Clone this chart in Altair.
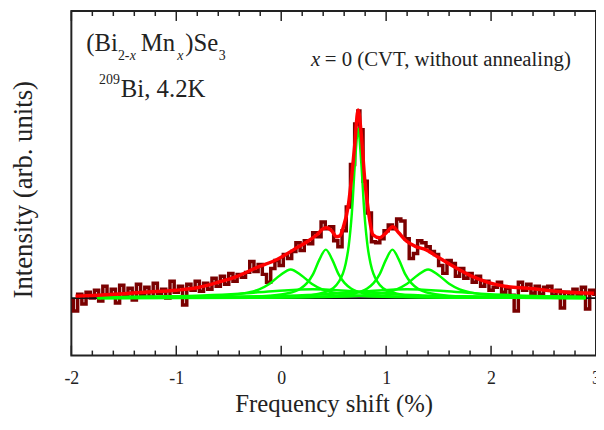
import altair as alt
import pandas as pd

# ---------------- data ----------------
# measured spectrum (noisy trace)
data_x = [-2.00, -1.96, -1.92, -1.88, -1.84, -1.80, -1.76, -1.72, -1.68, -1.64,
          -1.60, -1.56, -1.52, -1.48, -1.44, -1.40, -1.36, -1.32, -1.28, -1.24,
          -1.20, -1.16, -1.12, -1.08, -1.04, -1.00, -0.96, -0.92, -0.88, -0.84,
          -0.80, -0.76, -0.72, -0.68, -0.64, -0.60, -0.56, -0.52, -0.48, -0.44,
          -0.40, -0.36, -0.32, -0.28, -0.24, -0.20, -0.16, -0.12, -0.08, -0.04,
          0.00, 0.04, 0.08, 0.12, 0.16, 0.20, 0.24, 0.28, 0.32, 0.36,
          0.40, 0.44, 0.48, 0.52, 0.56, 0.60, 0.64, 0.68, 0.72, 0.74, 0.76,
          0.80, 0.84, 0.88, 0.92, 0.96, 1.00, 1.04, 1.08, 1.12, 1.16,
          1.20, 1.24, 1.28, 1.32, 1.36, 1.40, 1.44, 1.48, 1.52, 1.56,
          1.60, 1.64, 1.68, 1.72, 1.76, 1.80, 1.84, 1.88, 1.92, 1.96,
          2.00, 2.04, 2.08, 2.12, 2.16, 2.20, 2.24, 2.28, 2.32, 2.36,
          2.40, 2.44, 2.48, 2.52, 2.56, 2.60, 2.64, 2.68, 2.72, 2.76,
          2.80, 2.84, 2.88, 2.92, 2.96, 3.00]
data_y = [-2, -13, 4, -6, 6, 0, 8, -3, 12, 2,
          9, -5, 13, 3, 10, -2, 14, 4, 11, 1,
          15, 5, 9, 0, 17, 6, 12, -7, 14, 8,
          17, 7, 15, 9, 20, 12, 22, 14, 25, 17,
          24, 21, 26, 37, 27, 34, 24, 16, 30, 38,
          33, 44, 40, 47, 56, 48, 58, 55, 66, 62,
          77, 70, 72, 58, 52, 68, 92, 135, 176, 189, 170,
          118, 86, 57, 56, 60, 68, 74, 70, 80, 78,
          60, 40, 45, 58, 56, 52, 47, 44, 33, 25,
          38, 35, 22, 30, 20, 25, 16, 22, 12, 17,
          8, 11, 16, 6, 10, 3, -13, 16, 8, 14,
          5, 12, 4, 11, 12, 3, 8, -10, 6, 2,
          9, 3, 11, -11, 8, 4]

# total fit (red)
fit_x = [-1.96, -1.75, -1.5, -1.3, -1.0, -0.8, -0.6, -0.42, -0.23, -0.04,
         0.12, 0.275, 0.34, 0.40, 0.434, 0.48, 0.528, 0.56, 0.59, 0.64,
         0.67, 0.70, 0.733, 0.764, 0.795, 0.827, 0.874, 0.937, 1.0, 1.063,
         1.12, 1.19, 1.283, 1.377, 1.5, 1.66, 1.82, 1.97, 2.13, 2.35,
         2.67, 2.98]
fit_y = [2, 3, 4.5, 6, 8, 10.5, 16, 22, 31, 39,
         49, 59, 64, 70, 71, 68, 62, 63, 71, 94,
         121, 154, 190, 164, 121, 91, 64, 61, 66, 72,
         66, 58, 52, 49, 41, 31, 22, 16, 12, 10,
         6.5, 5]

# fitted components (green)
c1_x = [-1.75, 0.133, 0.433, 0.553, 0.613, 0.643, 0.673, 0.703, 0.733,
        0.763, 0.793, 0.823, 0.853, 0.913, 1.033, 1.333, 2.9]
c1_y = [0.1, 1.7, 6.6, 17.1, 34.2, 52.6, 85.5, 136.8, 171,
        136.8, 85.5, 52.6, 34.2, 17.1, 6.6, 1.7, 0.1]
c2_x = [-1.75, -0.775, -0.175, 0.065, 0.185, 0.245, 0.305, 0.365, 0.425,
        0.485, 0.545, 0.605, 0.665, 0.785, 1.025, 1.625, 2.9]
c2_y = [0.15, 0.49, 1.9, 4.9, 9.8, 15.1, 24.5, 39.2, 49,
        39.2, 24.5, 15.1, 9.8, 4.9, 1.9, 0.49, 0.11]
c3_x = [-1.75, -0.14, 0.46, 0.70, 0.82, 0.88, 0.94, 1.00, 1.06,
        1.12, 1.18, 1.24, 1.30, 1.42, 1.66, 2.26, 2.9]
c3_y = [0.09, 0.49, 1.9, 4.9, 9.8, 15.1, 24.5, 39.2, 49,
        39.2, 24.5, 15.1, 9.8, 4.9, 1.9, 0.49, 0.21]
c4_x = [-1.75, -0.91, -0.51, -0.31, -0.21, -0.11, -0.01, 0.09,
        0.19, 0.29, 0.39, 0.49, 0.69, 1.09, 2.9]
c4_y = [0.34, 1.1, 2.9, 5.8, 8.9, 14.5, 23.2, 29,
        23.2, 14.5, 8.9, 5.8, 2.9, 1.1, 0.15]
c5_x = [-1.75, 0.40, 0.80, 1.00, 1.10, 1.20, 1.30, 1.40,
        1.50, 1.60, 1.70, 1.80, 2.00, 2.40, 2.9]
c5_y = [0.12, 1.1, 2.9, 5.8, 8.9, 14.5, 23.2, 29,
        23.2, 14.5, 8.9, 5.8, 2.9, 1.1, 0.51]
c6_x = [-1.75, -1.1, -0.75, -0.4, -0.05, 0.3, 0.65, 1.0, 1.35, 1.7, 2.9]
c6_y = [0.94, 1.8, 2.77, 4.5, 7.2, 9, 7.2, 4.5, 2.77, 1.8, 0.61]
c7_x = [-1.75, -0.2, 0.15, 0.5, 0.85, 1.2, 1.55, 1.9, 2.25, 2.6, 2.9]
c7_y = [0.48, 1.8, 2.77, 4.5, 7.2, 9, 7.2, 4.5, 2.77, 1.8, 1.3]

# axis ticks
major_ticks = [-2, -1, 0, 1, 2, 3]
minor_ticks = [-1.8, -1.6, -1.4, -1.2, -0.8, -0.6, -0.4, -0.2, 0.2, 0.4, 0.6, 0.8,
               1.2, 1.4, 1.6, 1.8, 2.2, 2.4, 2.6, 2.8]

# texts
x_title = "Frequency shift (%)"
y_title = "Intensity (arb. units)"
comp_texts = ["(Bi", "2-", "x", "Mn", "x", ")Se", "3"]
iso_texts = ["209", "Bi, 4.2K"]
cond_texts = ["x", "= 0 (CVT, without annealing)"]

# ---------------- chart ----------------
W, H = 530, 348
FONT = "Liberation Serif"
INK = "#222222"

xsc = alt.Scale(domain=[-2, 3], nice=False)
ysc = alt.Scale(domain=[-58, 290], nice=False, zero=False)

df_data = pd.DataFrame({"x": data_x, "y": data_y})
df_fit = pd.DataFrame({"x": fit_x, "y": fit_y})
comps = []
for i, (cx, cy) in enumerate([(c1_x, c1_y), (c2_x, c2_y), (c3_x, c3_y), (c4_x, c4_y),
                              (c5_x, c5_y), (c6_x, c6_y), (c7_x, c7_y)]):
    comps.append(pd.DataFrame({"x": cx, "y": cy, "c": f"c{i+1}"}))
df_comp = pd.concat(comps, ignore_index=True)

xaxis = alt.Axis(values=major_ticks, labelExpr="'' + datum.value", ticks=False, domain=False,
                 grid=False, labelFlush=False, labelOverlap=False,
                 labelFont=FONT, labelFontSize=18, labelColor=INK, labelPadding=14,
                 titleFont=FONT, titleFontSize=25, titleFontWeight="normal", titleColor=INK,
                 titlePadding=5)
yaxis = alt.Axis(labels=False, ticks=False, domain=False, grid=False,
                 titleFont=FONT, titleFontSize=27, titleFontWeight="normal", titleColor=INK,
                 titlePadding=34, titleY=H / 2 + 6)

data_line = alt.Chart(df_data).mark_line(color="#7a0000", strokeWidth=3.5, interpolate="step",
                                         clip=True).encode(
    x=alt.X("x:Q", scale=xsc, axis=xaxis, title=x_title),
    y=alt.Y("y:Q", scale=ysc, axis=yaxis, title=y_title),
)

baseline = alt.Chart(pd.DataFrame({"y": [0]})).mark_rule(color="#111111", strokeWidth=2).encode(
    y=alt.Y("y:Q", scale=ysc)
)

comp_lines = alt.Chart(df_comp).mark_line(color="#00ff00", strokeWidth=2.5, interpolate="monotone",
                                          clip=True).encode(
    x=alt.X("x:Q", scale=xsc), y=alt.Y("y:Q", scale=ysc), detail="c:N"
)

fit_line = alt.Chart(df_fit).mark_line(color="#ff0000", strokeWidth=3.5, interpolate="monotone",
                                       clip=True).encode(
    x=alt.X("x:Q", scale=xsc), y=alt.Y("y:Q", scale=ysc)
)

df_major = pd.DataFrame({"t": major_ticks})
df_minor = pd.DataFrame({"t": minor_ticks})


def tick_layer(df, y0, y1):
    return alt.Chart(df).mark_rule(color=INK, strokeWidth=1.5).encode(
        x=alt.X("t:Q", scale=xsc), y=alt.value(y0), y2=alt.value(y1)
    )


ticks = [
    tick_layer(df_major, H, H - 10), tick_layer(df_minor, H, H - 5),
    tick_layer(df_major, 0, 10), tick_layer(df_minor, 0, 5),
]


def txt(s, px, py, size, style="normal"):
    return alt.Chart(pd.DataFrame({"t": [s]})).mark_text(
        align="left", baseline="alphabetic", font=FONT, fontSize=size, fontStyle=style, color=INK
    ).encode(x=alt.value(px), y=alt.value(py), text="t:N")


texts = [
    txt(comp_texts[0], 15, 40, 25),
    txt(comp_texts[1], 47, 49, 14),
    txt(comp_texts[2], 59, 49, 14, "italic"),
    txt(comp_texts[3], 70, 40, 25),
    txt(comp_texts[4], 107, 49, 14, "italic"),
    txt(comp_texts[5], 115, 40, 25),
    txt(comp_texts[6], 149, 49, 14),
    txt(iso_texts[0], 28, 74, 14),
    txt(iso_texts[1], 50, 87, 25),
    txt(cond_texts[0], 242, 55, 21, "italic"),
    txt(cond_texts[1], 256, 55, 21),
]

chart = alt.layer(data_line, baseline, comp_lines, fit_line, *ticks, *texts).properties(
    width=W, height=H,
    padding={"left": 64, "top": 1, "right": 0, "bottom": 60},
    autosize=alt.AutoSizeParams(type="none"),
).configure_view(stroke=INK, strokeWidth=2)

chart.save("out.html", embed_options={"renderer": "svg", "actions": False})
